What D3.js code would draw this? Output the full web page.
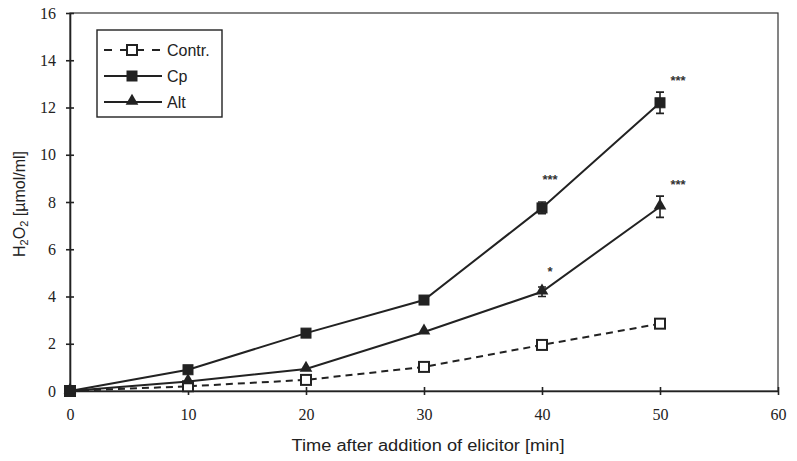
<!DOCTYPE html>
<head>
<meta charset="utf-8">
<style>
body { margin: 0; background: #fff; }
.tick text { font-family: "Liberation Serif", "Times New Roman", serif; font-size: 16px; fill: #222; }
.axis path, .axis line { stroke: #222; stroke-width: 1.6px; }
.ttl { font-family: "Liberation Sans", Arial, sans-serif; font-size: 16px; fill: #222; }
.ser { fill: none; stroke: #222; stroke-width: 2px; }
.leg text { font-family: "Liberation Sans", Arial, sans-serif; font-size: 16px; fill: #222; }
</style>
</head>
<body>
<script src="https://cdn.jsdelivr.net/npm/d3@7"></script>
<script>
var times = [0, 10, 20, 30, 40, 50];
var contr = [0, 0.2, 0.47, 1.02, 1.95, 2.85];
var cp = [0, 0.9, 2.45, 3.85, 7.75, 12.2];
var alt = [0, 0.4, 0.93, 2.5, 4.2, 7.8];
var cpErr = [0, 0.05, 0.1, 0.1, 0.25, 0.45];
var altErr = [0, 0.05, 0.1, 0.1, 0.2, 0.45];
var contrErr = [0, 0, 0, 0.05, 0.1, 0.15];
var xTicks = [0, 10, 20, 30, 40, 50, 60];
var yTicks = [0, 2, 4, 6, 8, 10, 12, 14, 16];
// significance marks: [series, time, label]
var stars = [["cp", 40, "***"], ["cp", 50, "***"], ["alt", 40, "*"], ["alt", 50, "***"]];

var width = 797, height = 461;
var margin = { left: 70, top: 13, right: 19, bottom: 70 };

var svg = d3.select("body").append("svg")
    .attr("width", width)
    .attr("height", height);

var x = d3.scaleLinear().domain([0, 60]).range([margin.left, width - margin.right]);
var y = d3.scaleLinear().domain([0, 16]).range([height - margin.bottom, margin.top]);

// frame
svg.append("rect")
    .attr("x", x(0)).attr("y", y(16))
    .attr("width", x(60) - x(0)).attr("height", y(0) - y(16))
    .attr("fill", "none").attr("stroke", "#333").attr("stroke-width", 1.2);

var xAxis = svg.append("g").attr("class", "axis")
    .attr("transform", "translate(0," + y(0) + ")")
    .call(d3.axisBottom(x).tickValues(xTicks).tickSize(4).tickSizeOuter(0).tickPadding(14));
xAxis.selectAll(".tick line").attr("y1", -4);

var yAxis = svg.append("g").attr("class", "axis")
    .attr("transform", "translate(" + x(0) + ",0)")
    .call(d3.axisLeft(y).tickValues(yTicks).tickSize(4).tickSizeOuter(0).tickPadding(10));
yAxis.selectAll(".tick line").attr("x1", 4);

svg.append("text").attr("class", "ttl")
    .attr("x", 428).attr("y", 451)
    .attr("font-size", "17px")
    .attr("text-anchor", "middle")
    .attr("textLength", 273).attr("lengthAdjust", "spacingAndGlyphs")
    .text("Time after addition of elicitor [min]");

var yl = svg.append("text").attr("class", "ttl")
    .attr("transform", "translate(25," + 204 + ")rotate(-90)")
    .attr("text-anchor", "middle");
yl.append("tspan").text("H");
yl.append("tspan").attr("font-size", "11px").attr("dy", 3).text("2");
yl.append("tspan").attr("dy", -3).text("O");
yl.append("tspan").attr("font-size", "11px").attr("dy", 3).text("2");
yl.append("tspan").attr("dy", -3).text(" [µmol/ml]");

var line = d3.line().x(function(d) { return x(d[0]); }).y(function(d) { return y(d[1]); });

var series = [
  { key: "contr", name: "Contr.", vals: contr, err: contrErr, dash: "7,5", sym: "square", open: true },
  { key: "cp", name: "Cp", vals: cp, err: cpErr, dash: null, sym: "square", open: false },
  { key: "alt", name: "Alt", vals: alt, err: altErr, dash: null, sym: "triangle", open: false }
];

function marker(g, s, cx, cy) {
  if (s.sym === "square") {
    g.append("rect")
      .attr("x", cx - 5).attr("y", cy - 5).attr("width", 10).attr("height", 10)
      .attr("fill", s.open ? "#fff" : "#222")
      .attr("stroke", "#222").attr("stroke-width", s.open ? 2 : 1);
  } else {
    g.append("path")
      .attr("d", d3.symbol().type(d3.symbolTriangle).size(70)())
      .attr("transform", "translate(" + cx + "," + (cy - 1) + ")")
      .attr("fill", "#222");
  }
}

series.forEach(function(s) {
  var pts = times.map(function(t, i) { return [t, s.vals[i]]; });
  svg.append("path").attr("class", "ser")
    .attr("d", line(pts))
    .attr("stroke-dasharray", s.dash);
  var g = svg.append("g");
  pts.forEach(function(p, i) {
    var e = s.err[i];
    if (e > 0.15) {
      var x0 = x(p[0]);
      g.append("path")
        .attr("d", "M" + (x0 - 4) + "," + y(p[1] + e) + "H" + (x0 + 4) +
          "M" + x0 + "," + y(p[1] + e) + "V" + y(p[1] - e) +
          "M" + (x0 - 4) + "," + y(p[1] - e) + "H" + (x0 + 4))
        .attr("stroke", "#222").attr("stroke-width", 1.6).attr("fill", "none");
    }
    marker(g, s, x(p[0]), y(p[1]));
  });
});

var byKey = { cp: cp, alt: alt };
stars.forEach(function(st) {
  var i = times.indexOf(st[1]);
  var v = byKey[st[0]][i];
  svg.append("text")
    .attr("x", x(st[1]) + (st[1] === 50 ? 18 : 8))
    .attr("y", y(v) - (st[1] === 50 ? 18 : (st[0] === "alt" ? 16 : 24)))
    .attr("text-anchor", "middle")
    .attr("font-family", "Liberation Sans, Arial, sans-serif")
    .attr("font-size", "13px").attr("font-weight", "bold").attr("fill", "#333")
    .text(st[2]);
});

// legend
var leg = svg.append("g").attr("class", "leg");
leg.append("rect")
  .attr("x", 97).attr("y", 30).attr("width", 125).attr("height", 87)
  .attr("fill", "#fff").attr("stroke", "#222").attr("stroke-width", 1.4);
series.forEach(function(s, i) {
  var ly = 50 + i * 26;
  leg.append("line")
    .attr("x1", 104).attr("x2", 162).attr("y1", ly).attr("y2", ly)
    .attr("stroke", "#222").attr("stroke-width", 2)
    .attr("stroke-dasharray", s.dash ? "8,8" : null);
  marker(leg, s, 132, ly);
  leg.append("text").attr("x", 167).attr("y", ly + 6).text(s.name);
});
</script>
</body>
